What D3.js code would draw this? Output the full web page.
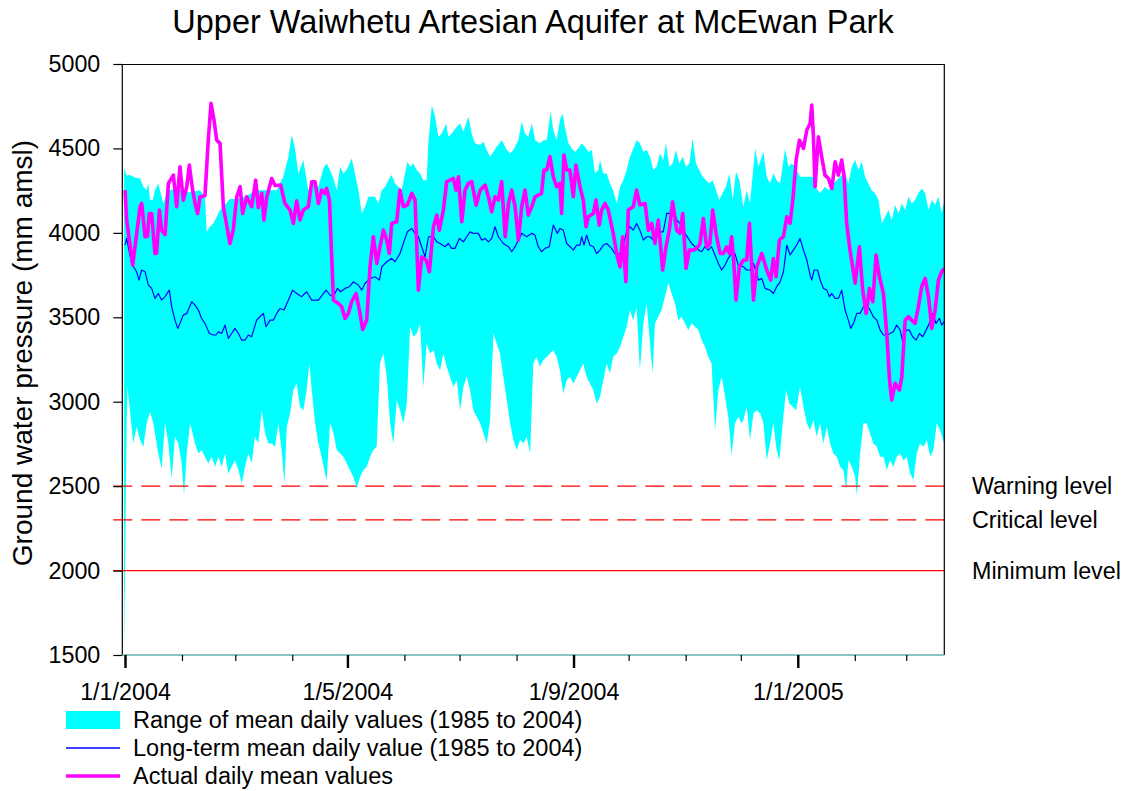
<!DOCTYPE html>
<html><head><meta charset="utf-8">
<script src="https://cdn.jsdelivr.net/npm/d3@7"></script>
<style>
body{margin:0;background:#fff}
svg{display:block}
text{font-family:"Liberation Sans",Arial,Helvetica,sans-serif;fill:#000}
</style>
</head><body>
<svg id="chart" width="1135" height="791"></svg>
<script>
// ---------- data ----------
const chartTitle = "Upper Waiwhetu Artesian Aquifer at McEwan Park";
const yAxisTitle = "Ground water pressure (mm amsl)";
const yTickValues = [1500, 2000, 2500, 3000, 3500, 4000, 4500, 5000];
const xMajorTickDates = ["2004-01-01", "2004-05-01", "2004-09-01", "2005-01-01"];
const xTickLabels = ["1/1/2004", "1/5/2004", "1/9/2004", "1/1/2005"];
const levelNames = ["Warning level", "Critical level", "Minimum level"];
const levelValues = [2500, 2300, 2000];
const legendLabels = ["Range of mean daily values (1985 to 2004)", "Long-term mean daily value (1985 to 2004)", "Actual daily mean values"];

// [day offset from 1 Jan 2004, mm amsl]
const rangeHigh = [[-0.5,4382],[0.9,4340],[2.7,4342],[5.4,4328],[8.2,4322],[10,4273],[11.8,4253],[12.7,4293],[13.6,4194],[15.1,4194],[16.3,4253],[18.1,4293],[19,4253],[20.9,4174],[23,4250],[27,4260],[31,4250],[35,4240],[40.8,4253],[43.5,4214],[44.4,4007],[46.2,4036],[48,4056],[49.9,4095],[51.7,4135],[53.5,4155],[57,4200],[61,4200],[64.9,4214],[68.5,4234],[71.6,4253],[77,4253],[82.5,4253],[86.1,4332],[88.9,4451],[90.7,4579],[92.5,4500],[94.3,4352],[97,4431],[99.7,4253],[102.5,4293],[105.2,4273],[107.9,4382],
[109.7,4411],[111.5,4372],[113.4,4322],[115.2,4253],[117,4391],[118.8,4352],[120.6,4372],[123.3,4441],[125.1,4352],[127,4253],[128.8,4115],[130.6,4155],[132.4,4214],[136,4214],[137.8,4174],[139.7,4253],[141.5,4273],[143.3,4312],[145.1,4342],[146.9,4293],[148.7,4273],[150.5,4253],[152.3,4352],[153.6,4421],[155.1,4391],[156.9,4411],[158.7,4372],[160.5,4352],[162.3,4312],[164.1,4312],[165,4530],[166.9,4757],[168.7,4688],[170.5,4569],[172.3,4589],[174.7,4648],[175.9,4569],[177.7,4589],[180.5,4628],[182.3,4648],[184.1,4599],[186.8,4688],[188.6,4589],[190.4,4530],[193.2,4520],[195,4540],[196.8,4490],[198.6,4451],[200.4,4480],[202.2,4510],[205,4549],[207.7,4490],[209.5,4471],[211.3,4490],[214,4549],[215.8,4658],[217.6,4589],[219.4,4569],[221.3,4648],[223.1,4549],
[225.7,4530],[227.6,4549],[229.4,4549],[231.5,4717],[233,4609],[234.8,4549],[236.6,4668],[238.1,4707],[239.3,4628],[241.2,4530],[243,4500],[244.8,4480],[246.6,4500],[248.4,4530],[250.2,4510],[252,4480],[253.9,4490],[255.7,4352],[257.5,4372],[258.4,4431],[260.2,4352],[262,4352],[263.8,4293],[265.6,4253],[267.5,4174],[269.3,4273],[271.1,4312],[272.9,4372],[274.7,4451],[276.5,4500],[278.3,4549],[280.1,4530],[282,4480],[283.8,4490],[285.6,4451],[287.4,4372],[289.2,4391],[291,4470],[292.8,4431],[294.3,4530],[296.1,4391],[297.9,4411],[299.7,4490],[301.5,4411],[303.4,4451],[305.2,4391],[307,4411],[308.8,4559],[310.6,4411],[312.4,4372],[314.2,4332],[316.1,4312],[317.9,4293],[319.7,4312],[321.5,4253],[323.3,4194],[325.1,4234],[326.9,4273],[328.8,4352],[330.6,4194],[332.4,4362],[334.2,4312],
[336.4,4155],[338.2,4253],[340,4174],[342.8,4500],[344.6,4391],[347.3,4480],[349.1,4332],[350.9,4293],[352.7,4352],[354.5,4312],[356.4,4293],[359.1,4500],[360.9,4391],[362.7,4411],[364.5,4391],[367.2,4332],[371,4332],[374.5,4332],[375.4,4273],[378.1,4234],[380.8,4273],[382.7,4253],[385.4,4293],[389,4332],[391.7,4352],[393.5,4293],[395.4,4391],[397.2,4431],[399,4372],[400.8,4421],[402.6,4332],[404.4,4293],[406.2,4253],[408.1,4234],[409.9,4194],[411.7,4056],[413.5,4095],[415.3,4135],[417.1,4076],[418.9,4165],[420.8,4115],[422.6,4174],[424.4,4135],[426.2,4214],[428,4174],[429.8,4194],[431.6,4234],[433.4,4263],[435.3,4234],[437.1,4135],[438.9,4194],[440.7,4165],[442.5,4214],[444.3,4115],[445.6,4184]];

const rangeLow = [[-0.5,1500],[0.9,2870],[1.3,3089],[2.7,2950],[4.5,2753],[6.3,2852],[8.2,2773],[10,2733],[11.8,2872],[13.6,2940],[15.4,2872],[18.1,2694],[19.9,2605],[21.8,2872],[23.6,2753],[25.4,2546],[27.2,2793],[29,2753],[30.8,2635],[32.1,2447],[33.6,2694],[35.4,2872],[38.1,2753],[39.9,2694],[41.7,2714],[43.5,2674],[45.3,2635],[47.2,2674],[49,2615],[50.8,2674],[52.6,2615],[54.4,2694],[56.2,2575],[58,2615],[59.8,2654],[61.7,2595],[63.5,2516],[65.3,2615],[67.1,2694],[68.9,2635],[70.7,2793],[72.5,2753],[74.4,2950],[76.2,2813],[78,2753],[79.8,2753],[81.6,2733],[83.4,2872],[85.2,2714],[86.7,2516],[88,2852],[89.8,2931],[91.6,3069],[93.4,3108],[95.2,2970],[97,2950],[98.8,3069],[100.3,3227],[101.6,3069],[103.4,2872],[105.2,2753],[107,2674],[108.8,2575],
[109.7,2536],[111.5,2872],[113.4,2813],[115.2,2714],[117,2694],[118.8,2674],[120.6,2635],[122.4,2595],[124.2,2556],[126.1,2487],[127.9,2556],[129.7,2595],[131.5,2615],[133.3,2674],[135.1,2714],[136.9,2733],[138.7,3227],[140.6,3286],[142.4,3148],[144.2,2872],[146,2753],[147.8,3010],[149.6,2950],[151.4,2872],[153.3,2990],[155.1,3444],[156.9,3385],[158.7,3404],[160.5,3464],[162.3,3089],[164.1,3345],[165.9,3286],[167.8,3306],[169.6,3227],[171.4,3187],[173.2,3286],[175,3207],[176.8,3148],[178.6,3089],[180.5,3128],[182.3,2950],[184.1,3089],[185.9,3148],[187.7,3069],[189.5,2950],[191.3,2911],[193.2,2872],[195,2813],[196.8,2753],[198.6,2891],[200.4,3404],[202.2,3345],[204,3286],[205.8,3148],[207.7,3010],[209.5,2872],[211.3,2773],[213.1,2714],[214.9,2773],[216.7,2753],[218.5,2793],[220.4,2694],[222.1,3227],
[223.9,3266],[225.7,3207],[227.6,3247],[229.4,3266],[231.2,3286],[233,3306],[234.8,3266],[236.6,3187],[238.4,3049],[240.3,3128],[242.1,3148],[243.9,3108],[245.7,3148],[247.5,3187],[249.3,3227],[251.1,3148],[252.9,3108],[254.8,3069],[256.6,2990],[258.4,3030],[260.2,3128],[262,3227],[263.8,3168],[265.6,3266],[267.5,3286],[269.3,3326],[271.1,3385],[272.9,3444],[274.7,3543],[276.5,3483],[278.3,3562],[280.1,3187],[282,3464],[283.8,3582],[285.6,3345],[287,3168],[288.3,3464],[290.1,3503],[291.9,3543],[293.7,3622],[295.6,3701],[297.4,3641],[299.2,3582],[301,3483],[302.8,3503],[304.6,3464],[306.4,3424],[308.3,3464],[310.1,3444],[311.9,3424],[313.7,3365],[315.5,3326],[317.3,3266],[319.1,3227],[321,2832],[322.8,3069],[324.6,3148],[326.4,3030],[328.2,2911],[330,2684],[331.8,2872],[333.6,2911],[335.4,2872],
[336.4,2891],[338.2,2970],[340,2773],[341.9,2931],[343.7,2950],[345.5,2931],[347.3,2872],[349.1,2654],[350.9,2753],[352.7,2872],[354.5,2714],[356,2654],[357.8,2872],[359.6,3069],[361.4,2990],[363.3,2970],[365.1,2950],[367.2,3089],[369.1,2970],[370.9,2872],[372.7,2832],[374.5,2891],[376.3,2793],[378.1,2872],[379.9,2753],[381.8,2852],[383.6,2753],[385.4,2694],[387.2,2674],[389,2615],[390.8,2595],[392.3,2477],[393.5,2654],[395.4,2615],[397.2,2556],[398.1,2447],[399.9,2694],[401.7,2872],[403.5,2872],[405.3,2813],[407.1,2753],[409,2733],[410.8,2674],[412.6,2674],[414.4,2595],[416.2,2654],[418,2615],[419.8,2674],[421.7,2694],[423.5,2654],[425.3,2674],[427.1,2575],[428.9,2536],[430.7,2694],[432.5,2753],[434.4,2733],[436.2,2773],[438,2674],[439.8,2714],[441.6,2872],[443.4,2832],[445.6,2753]];

const longTermMean = [[0,3928],[0.9,3967],[3.6,3819],[6.3,3770],[7.6,3720],[9.1,3780],[10.9,3770],[12.7,3691],[14.5,3671],[16.3,3612],[18.1,3641],[19.9,3602],[21.8,3622],[24.1,3661],[25.4,3562],[27.2,3483],[28.7,3434],[29.9,3464],[31.7,3513],[33.6,3523],[36.3,3592],[38.1,3572],[39.9,3543],[41.7,3493],[43.5,3464],[45.9,3404],[48.1,3395],[49.5,3395],[50.8,3414],[52.6,3404],[54.4,3454],[56.2,3375],[58,3404],[59.8,3434],[61.7,3404],[63.5,3365],[65.3,3365],[67.1,3395],[68.9,3385],[71.6,3483],[73.4,3503],[75.3,3523],[76.7,3444],[78.9,3483],[80.7,3483],[82.5,3523],[84.3,3552],[86.5,3543],[88.9,3602],[91.2,3661],[93.4,3641],[96.1,3622],[98.8,3651],[101.6,3602],[105.2,3602],
[109.4,3661],[111.5,3632],[113.4,3622],[115.5,3671],[117.3,3651],[119.7,3671],[122.1,3681],[124.2,3710],[126.9,3691],[128.8,3661],[130.6,3701],[133.3,3730],[136,3740],[138.4,3720],[139.7,3799],[142.4,3829],[145.1,3849],[146.9,3829],[149.6,3878],[151.4,3937],[153.6,4006],[156,4026],[157.8,3997],[159.6,3977],[161.4,3918],[163.2,3858],[165.1,3977],[167.8,3977],[169.6,3947],[171.4,3937],[174.1,3918],[175.9,3937],[177.7,3908],[179.5,3908],[181.9,3967],[184.1,3947],[185.9,3977],[187.7,4006],[189.5,3997],[192.2,3997],[194.1,3957],[195.9,3967],[197.7,3947],[199.5,3967],[201.3,4036],[203.1,3977],[205.8,3937],[208.6,3918],[210.4,3888],[212.2,3918],[214,3957],[215.8,3997],[218.5,3977],[221.3,3997],
[223,3987],[224.8,3918],[226.6,3888],[228.5,3908],[230.8,3918],[233,4046],[235.2,3997],[236.6,4026],[238.4,4016],[240.3,3937],[242.1,3918],[243.9,3898],[245.7,3927],[247.5,3927],[248.4,3977],[249.7,3927],[251.1,3987],[252.9,3927],[254.8,3918],[256.6,3878],[258.4,3898],[260.2,3927],[262,3937],[264.7,3908],[266.5,3878],[268.4,3868],[270.2,3898],[272.9,4006],[274.7,4036],[276.5,4016],[278.3,4056],[280.1,4016],[282,3957],[283.8,3977],[285.6,3977],[287.4,3957],[289.2,3977],[291,4006],[292.8,4006],[294.7,4115],[296.5,4115],[298.6,4135],[300.1,4076],[302.8,4046],[304.6,3997],[306.4,3967],[308.3,3937],[310.1,3918],[311.9,3898],[313.7,3888],[315.5,3918],[317.3,3898],[319.1,3918],[321,3868],[322.8,3819],[324.6,3780],[326.4,3809],[328.2,3849],[330,3878],[331.8,3878],[333.6,3809],
[336.4,3799],[338.2,3780],[340,3780],[341.9,3819],[344.6,3720],[346.4,3730],[348.2,3671],[350.9,3661],[352.7,3641],[354.5,3681],[356.4,3710],[358.2,3770],[360,3928],[361.8,3869],[363.6,3898],[365.4,3928],[367.2,3967],[369.1,3898],[370.9,3839],[372.7,3750],[373.6,3720],[374.9,3780],[376.7,3780],[378.5,3710],[380,3671],[381.8,3661],[383.2,3622],[384.5,3641],[386.3,3612],[388.1,3612],[389.9,3661],[391.7,3543],[393.5,3483],[394.8,3434],[396.3,3464],[398.1,3523],[399.9,3523],[401.7,3562],[403.5,3572],[405.3,3543],[407.1,3503],[409,3483],[410.8,3424],[412.6,3395],[414.4,3395],[416.2,3404],[418,3414],[419.8,3454],[421.7,3424],[423.1,3355],[424.9,3424],[426.7,3424],[428.5,3385],[430.4,3365],[432.2,3404],[434,3385],[435.8,3424],[437.6,3464],[439.4,3523],[441.2,3464],[443.1,3493],[444.3,3454],[445.6,3474]];

const actualDaily = [[0,4253],[0.9,4076],[4.2,3809],[8.2,4155],[9.1,4174],[10.9,3977],[12.2,3980],[13.2,4115],[14.5,4115],[16.3,3878],[17.2,3880],[18.7,4135],[19.9,4016],[21.8,3990],[23.6,4293],[26.3,4342],[28.1,4155],[29.9,4391],[31.7,4194],[33.6,4273],[35,4401],[36.8,4253],[38.1,4174],[39.5,4115],[40.8,4214],[43.5,4220],[45.3,4549],[46.8,4767],[48.4,4668],[49.9,4549],[51.7,4530],[53.5,4155],[57.1,3937],[58.9,4016],[60.8,4214],[62.6,4273],[64,4115],[66.2,4214],[68.9,4155],[71.1,4312],[72.5,4150],[74.4,4234],[75.6,4076],[77.1,4210],[79.8,4322],[81.6,4280],[84.7,4283],[87,4174],[89.8,4135],[91.6,4056],[93.4,4190],[95.2,4076],[97,4135],[99.7,4155],[101.6,4302],[103.4,4302],[105.2,4174],[107,4253],[108.8,4234],
[109.7,4263],[111.2,4194],[113.4,3602],[116.1,3582],[117.9,3562],[119.7,3493],[121.5,3523],[123.3,3592],[125.7,3641],[127.5,3543],[129.3,3428],[131.5,3483],[133.3,3799],[135.1,3977],[137,3819],[138.7,3917],[140.6,4016],[142.4,3957],[143.8,3878],[145.1,4056],[147.8,4066],[149.6,4253],[151.4,4155],[153.6,4165],[156,4234],[157.8,4194],[159.6,3661],[161.4,3858],[163.8,3839],[165.6,3770],[167.8,4036],[169.6,4105],[171,4016],[173.2,4135],[175,4303],[176.8,4312],[178.6,4322],[180.1,4253],[181.4,4332],[183.2,4066],[185,4253],[186.8,4293],[188.6,4303],[191,4164],[193.2,4253],[195.9,4283],[197.7,4214],[199.5,4125],[201.3,4214],[203.1,4194],[204.9,4303],[206.8,3977],[208.6,4174],[210.4,4253],[212.2,4155],[214,3957],[215.8,4155],[217.6,4253],[219.4,4105],[221.3,4155],[223.1,4214],
[226.6,4234],[227.9,4372],[229.4,4372],[231.2,4451],[233,4332],[234.8,4273],[236.6,4293],[237.5,4115],[238.8,4461],[240.3,4372],[242,4372],[243.9,4214],[245.3,4401],[247.5,4273],[249.3,4194],[250.8,4036],[252,4095],[254.8,4115],[256.2,4194],[258,4046],[259.3,4135],[261.1,4174],[262.9,4135],[265.6,3997],[267.8,3858],[269.3,3799],[270.7,3977],[272.5,3711],[273.8,4135],[276.5,4155],[278.3,4253],[280.1,4165],[282.9,4174],[284.7,4016],[286.5,4056],[288.3,3937],[290.1,4076],[292.5,3780],[294.3,3917],[296.1,4016],[297.9,4184],[300.1,4016],[301.9,3997],[303.4,4115],[305.2,3790],[307,3898],[309.2,3898],[311,3908],[312.8,3937],[314.6,4085],[316.4,3917],[318.2,3937],[319.7,4135],[321.5,3997],[323.7,3878],[325.5,3878],[327.3,3917],[328.8,3878],[330,3977],[331,3858],[332.4,3602],[334.2,3799],
[336.4,3839],[338.2,3839],[339.7,4056],[341.9,3602],[343.7,3799],[346.4,3878],[349.1,3780],[351.3,3720],[352.7,3848],[354.2,3740],[356,3957],[358.2,3977],[360,4095],[361.8,4056],[363.3,4194],[365.1,4431],[366.9,4549],[369.1,4500],[370.9,4609],[372.7,4648],[373.6,4757],[374.5,4569],[375.4,4273],[377.2,4569],[379,4451],[380.8,4342],[382.7,4322],[384.5,4263],[386.3,4421],[388.1,4342],[389.9,4431],[391.2,4332],[392.6,4056],[394.4,3898],[397.2,3701],[399.5,3917],[401.3,3661],[403.2,3523],[405,3671],[406.8,3592],[408.6,3868],[410.4,3740],[412.6,3641],[414.4,3404],[415.9,3128],[417.1,3010],[418.9,3109],[421.3,3069],[422.6,3148],[424.4,3483],[426.2,3503],[428,3483],[429.8,3464],[431.6,3562],[433.4,3681],[435.3,3730],[437.1,3622],[438.9,3434],[440.7,3543],[442.5,3720],[444.3,3770],[445.6,3789]];

// ---------- layout ----------
const svg = d3.select("#chart");
const plot = {left: 122.3, right: 944.3, top: 64, bottom: 655};
const dayZero = Date.UTC(2004, 0, 1);
const toDate = d => new Date(dayZero + d * 864e5);
const parseDay = d3.utcParse("%Y-%m-%d");
const axisFont = "23.3px";

const x = d3.scaleUtc().domain([toDate(-1.47), toDate(445.7)]).range([plot.left, plot.right]);
const y = d3.scaleLinear().domain([1500, 5000]).range([plot.bottom, plot.top]);

svg.append("defs").append("clipPath").attr("id", "clip")
  .append("rect").attr("x", plot.left).attr("y", plot.top)
  .attr("width", plot.right - plot.left).attr("height", plot.bottom - plot.top);

const g = svg.append("g").attr("clip-path", "url(#clip)");
const line = d3.line().x(d => x(toDate(d[0]))).y(d => y(d[1]));

// range band
const bandPts = rangeHigh.concat(rangeLow.slice().reverse());
g.append("path").attr("d", line.curve(d3.curveLinearClosed)(bandPts)).attr("fill", "#00ffff");
line.curve(d3.curveLinear);

// levels
const levelDash = ["19,9", "19,9", null];
levelValues.forEach((v, i) => {
  svg.append("line")
    .attr("x1", plot.left - 9).attr("x2", plot.right)
    .attr("y1", y(v)).attr("y2", y(v))
    .attr("stroke", "#ff0000").attr("stroke-width", 1.3)
    .attr("stroke-dasharray", levelDash[i]);
  svg.append("text").attr("x", 972).attr("y", y(v)).attr("dy", "0.35em")
    .style("font-size", axisFont).text(levelNames[i]);
});

// long-term mean
g.append("path").attr("d", line(longTermMean)).attr("fill", "none")
  .attr("stroke", "#0000ff").attr("stroke-width", 1.2).attr("stroke-linejoin", "round");
// actual
g.append("path").attr("d", line(actualDaily)).attr("fill", "none")
  .attr("stroke", "#ff00ff").attr("stroke-width", 3.6).attr("stroke-linejoin", "round");

// frame
svg.append("path").attr("d", `M${plot.left},${plot.bottom}V${plot.top + 0.5}H${plot.right}V${plot.bottom}`)
  .attr("fill", "none").attr("stroke", "#000").attr("stroke-width", 1.2);
svg.append("line").attr("x1", plot.left).attr("x2", plot.right)
  .attr("y1", plot.bottom).attr("y2", plot.bottom)
  .attr("stroke", "#5fb0b0").attr("stroke-width", 1.3);

// y axis
const yAxis = svg.append("g").attr("transform", `translate(${plot.left},0)`)
  .call(d3.axisLeft(y).tickValues(yTickValues).tickSize(9).tickPadding(13).tickFormat(d3.format("d")));
yAxis.select(".domain").remove();
yAxis.selectAll(".tick line").attr("stroke", "#000").attr("stroke-width", 1.2);
yAxis.selectAll("text").style("font-size", axisFont).attr("fill", "#000");

// x axis minor (monthly)
const xMinor = svg.append("g").attr("transform", `translate(0,${plot.bottom})`)
  .call(d3.axisBottom(x).ticks(d3.utcMonth.every(1)).tickSize(6).tickFormat(""));
xMinor.select(".domain").remove();
xMinor.selectAll(".tick line").attr("stroke", "#000").attr("stroke-width", 1.2);

// x axis major
const xMajor = svg.append("g").attr("transform", `translate(0,${plot.bottom})`)
  .call(d3.axisBottom(x).tickValues(xMajorTickDates.map(parseDay)).tickSize(13).tickPadding(15)
    .tickFormat((d, i) => xTickLabels[i]));
xMajor.select(".domain").remove();
xMajor.selectAll(".tick line").attr("stroke", "#000").attr("stroke-width", 2.4);
xMajor.selectAll("text").style("font-size", axisFont).attr("fill", "#000");

// titles
svg.append("text").attr("x", 533).attr("y", 22).attr("dy", "0.35em").attr("text-anchor", "middle")
  .style("font-size", "32.5px").text(chartTitle);
svg.append("text").attr("transform", "translate(22,353) rotate(-90)").attr("dy", "0.35em")
  .attr("text-anchor", "middle").style("font-size", "28px").text(yAxisTitle);

// legend
const legendY = [720, 748, 776];
const lg = svg.append("g");
lg.append("rect").attr("x", 66).attr("y", legendY[0] - 9).attr("width", 54).attr("height", 18).attr("fill", "#00ffff");
lg.append("line").attr("x1", 66).attr("x2", 120).attr("y1", legendY[1]).attr("y2", legendY[1])
  .attr("stroke", "#0000ff").attr("stroke-width", 1.5);
lg.append("line").attr("x1", 66).attr("x2", 120).attr("y1", legendY[2]).attr("y2", legendY[2])
  .attr("stroke", "#ff00ff").attr("stroke-width", 3.5);
legendLabels.forEach((t, i) => {
  lg.append("text").attr("x", 133).attr("y", legendY[i]).attr("dy", "0.35em")
    .style("font-size", "23.5px").text(t);
});
</script>
</body></html>
